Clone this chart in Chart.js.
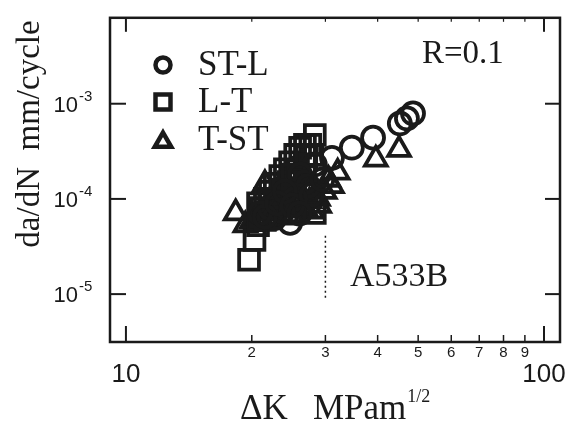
<!DOCTYPE html>
<html>
<head>
<meta charset="utf-8">
<script src="https://cdn.jsdelivr.net/npm/chart.js@4.4.0/dist/chart.umd.min.js"></script>
<style>
  html, body { margin: 0; padding: 0; background: #fff; }
  #wrap { width: 581px; height: 423px; position: relative; }
</style>
</head>
<body>
<div id="wrap"><canvas id="c"></canvas></div>
<script>
// Fatigue crack growth rate vs stress intensity range, A533B steel, R = 0.1
const stlK    = [48.6, 47.0, 45.2, 39.0, 34.7, 31.1, 28.3, 27.3, 26.8, 26.1, 25.4, 24.7, 23.7, 22.7, 22.1, 20.9,
                 21.5, 23.0, 24.0, 25.0, 27.8, 29.5, 26.0];
const stlRate = [7.9e-4, 7.0e-4, 6.2e-4, 4.4e-4, 3.45e-4, 2.7e-4, 2.3e-4, 1.37e-4, 1.5e-4, 1.8e-4, 1.0e-4, 5.6e-5, 7.4e-5, 6.3e-5, 8.0e-5, 7.1e-5,
                 6.5e-5, 9.0e-5, 1.2e-4, 8.5e-5, 1.1e-4, 1.6e-4, 7.0e-5];

const ltK    = [19.7, 20.3, 20.7, 21.1, 20.7, 21.5, 22.1, 22.7, 23.4, 24.0, 24.7, 25.4, 26.1, 26.8, 28.3, 27.6, 27.9, 26.8, 25.4, 24.0, 22.7, 21.9, 26.1, 28.3,
                21.5, 23.0, 24.5, 25.8, 22.0, 23.8, 25.0, 27.0, 21.0, 24.2, 26.5];
const ltRate = [2.3e-5, 3.7e-5, 5.3e-5, 8.0e-5, 9.0e-5, 1.0e-4, 1.19e-4, 1.44e-4, 1.74e-4, 2.05e-4, 2.43e-4, 2.9e-4, 3.45e-4, 3.7e-4, 4.7e-4, 3.7e-4, 2.9e-4, 2.3e-4, 1.6e-4, 1.14e-4, 8.0e-5, 6.8e-5, 9.0e-5, 7.1e-5,
                6.0e-5, 1.0e-4, 1.5e-4, 2.0e-4, 9.5e-5, 1.25e-4, 1.8e-4, 2.8e-4, 6.5e-5, 7.0e-5, 1.3e-4];

const tstK    = [18.3, 19.3, 20.3, 21.1, 21.5, 22.1, 23.1, 23.4, 24.0, 24.9, 26.1, 26.8, 27.9, 28.8, 29.9, 31.1, 32.1, 39.6, 45.0,
                 20.0, 22.5, 24.5, 25.5, 23.5, 27.5, 29.0, 30.5, 21.8, 25.0];
const tstRate = [7.1e-5, 5.3e-5, 6.3e-5, 7.1e-5, 1.44e-4, 9.0e-5, 8.0e-5, 1.28e-4, 9.0e-5, 1.01e-4, 1.09e-4, 8.0e-5, 7.4e-5, 1.01e-4, 1.19e-4, 1.37e-4, 1.9e-4, 2.6e-4, 3.3e-4,
                 5.8e-5, 1.1e-4, 8.5e-5, 1.2e-4, 1.05e-4, 9.5e-5, 8.5e-5, 1.6e-4, 6.0e-5, 6.8e-5];

// dotted marker line at ΔK = 30
const guideK    = [30, 30];
const guideRate = [4.1e-5, 9.1e-6];

const seriesNames = ['ST-L', 'L-T', 'T-ST'];
const xMajorTicks = [10, 100];
const xMinorTicks = [20, 30, 40, 50, 60, 70, 80, 90];
const xMinorLabels = ['2', '3', '4', '5', '6', '7', '8', '9'];
const yTicks = [1e-3, 1e-4, 1e-5];
const yExpLabels = ['-3', '-4', '-5'];

const xMin = 9.16, xMax = 109.2;
const yMin = 3.14e-6, yMax = 7.99e-3;

const pts = (xs, ys) => xs.map((v, i) => ({ x: v, y: ys[i] }));

const INK = '#1a1a1a';
const SERIF = '"Liberation Serif", "DejaVu Serif", serif';
const SANS = '"Liberation Sans", "DejaVu Sans", sans-serif';

const decorations = {
  id: 'decorations',
  afterDraw(chart) {
    const { ctx, chartArea: a, scales: { x, y } } = chart;
    ctx.save();
    ctx.strokeStyle = INK;
    ctx.fillStyle = INK;

    // frame
    ctx.lineWidth = 2.5;
    ctx.strokeRect(a.left, a.top, a.right - a.left, a.bottom - a.top);

    // inward ticks
    const line = (x1, y1, x2, y2, w) => {
      ctx.lineWidth = w;
      ctx.beginPath(); ctx.moveTo(x1, y1); ctx.lineTo(x2, y2); ctx.stroke();
    };
    xMajorTicks.forEach(v => {
      const px = x.getPixelForValue(v);
      line(px, a.bottom, px, a.bottom - 16, 2);
      line(px, a.top, px, a.top + 14, 2);
    });
    xMinorTicks.forEach(v => {
      const px = x.getPixelForValue(v);
      line(px, a.bottom, px, a.bottom - 7, 1.5);
      line(px, a.top, px, a.top + 4, 1.2);
    });
    yTicks.forEach(v => {
      const py = y.getPixelForValue(v);
      line(a.left, py, a.left + 16, py, 2);
      line(a.right, py, a.right - 15, py, 2);
    });

    // x tick labels
    ctx.textAlign = 'center';
    ctx.textBaseline = 'middle';
    ctx.font = '15px ' + SANS;
    xMinorTicks.forEach((v, i) => ctx.fillText(xMinorLabels[i], x.getPixelForValue(v), 353));
    ctx.font = '26px ' + SANS;
    xMajorTicks.forEach(v => ctx.fillText(String(v), x.getPixelForValue(v), 375));

    // y tick labels with exponent
    yTicks.forEach((v, i) => {
      const py = y.getPixelForValue(v);
      ctx.textAlign = 'right';
      ctx.textBaseline = 'alphabetic';
      ctx.font = '22px ' + SANS;
      ctx.fillText('10', 78, py + 8);
      ctx.textAlign = 'left';
      ctx.font = '15px ' + SANS;
      ctx.fillText(yExpLabels[i], 79, py - 3);
    });

    // axis titles
    ctx.save();
    ctx.translate(30, 134);
    ctx.rotate(-Math.PI / 2);
    ctx.textAlign = 'center';
    ctx.textBaseline = 'middle';
    ctx.font = '33px ' + SERIF;
    ctx.fillText('da/dN  mm/cycle', 0, 0);
    ctx.restore();

    ctx.textAlign = 'left';
    ctx.textBaseline = 'alphabetic';
    ctx.font = '35px ' + SERIF;
    ctx.fillText('ΔK', 240, 419);
    ctx.fillText('MPam', 313, 419);
    const w = ctx.measureText('MPam').width;
    ctx.font = '18px ' + SERIF;
    ctx.fillText('1/2', 313 + w + 1, 402);

    // legend
    const styles = ['circle', 'rect', 'triangle'];
    const radii = [7.5, 10.6, 9.5];
    const rows = [65, 102, 140];
    ctx.fillStyle = '#fff';
    ctx.lineWidth = 4.5;
    styles.forEach((s, i) => {
      Chart.helpers.drawPoint(ctx, { pointStyle: s, radius: radii[i], borderWidth: 4.5 }, 163, rows[i] + (s === 'triangle' ? 2 : 0));
    });
    ctx.fillStyle = INK;
    ctx.font = '35px ' + SERIF;
    ctx.textAlign = 'left';
    ctx.textBaseline = 'alphabetic';
    seriesNames.forEach((n, i) => ctx.fillText(n, 198, [75, 112, 150][i]));

    // annotations
    ctx.font = '33px ' + SERIF;
    ctx.fillText('R=0.1', 422, 63);
    ctx.font = '34px ' + SERIF;
    ctx.fillText('A533B', 350, 286);

    ctx.restore();
  }
};

const common = {
  type: 'scatter',
  borderColor: INK,
  backgroundColor: 'rgba(0,0,0,0)',
  borderWidth: 3.8,
  pointBorderWidth: 3.8
};

new Chart(document.getElementById('c'), {
  type: 'scatter',
  data: {
    datasets: [
      { ...common, label: 'ST-L', data: pts(stlK, stlRate), pointStyle: 'circle', pointRadius: 11 },
      { ...common, label: 'L-T', data: pts(ltK, ltRate), pointStyle: 'rect', pointRadius: 14 },
      { ...common, label: 'T-ST', data: pts(tstK, tstRate), pointStyle: 'triangle', pointRadius: 12.5 },
      { type: 'line', label: 'guide', data: pts(guideK, guideRate), borderColor: INK, borderWidth: 1.5,
        borderDash: [2, 3], pointRadius: 0, fill: false }
    ]
  },
  options: {
    responsive: true,
    maintainAspectRatio: false,
    animation: false,
    devicePixelRatio: 1,
    layout: { padding: { left: 110, right: 21, top: 10, bottom: 81 } },
    plugins: { legend: { display: false }, tooltip: { enabled: false } },
    scales: {
      x: { type: 'logarithmic', min: xMin, max: xMax, display: false },
      y: { type: 'logarithmic', min: yMin, max: yMax, display: false }
    }
  },
  plugins: [decorations]
});
</script>
</body>
</html>
